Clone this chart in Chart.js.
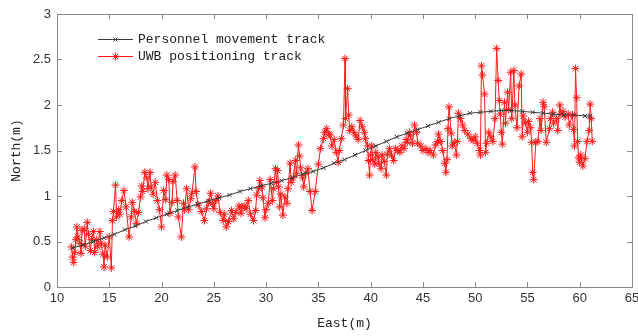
<!DOCTYPE html>
<html><head><meta charset="utf-8">
<script src="https://cdn.jsdelivr.net/npm/chart.js@4.4.1/dist/chart.umd.min.js"></script>
<style>html,body{margin:0;padding:0;background:#fff;overflow:hidden}</style>
</head><body>
<canvas id="c" width="638" height="336" style="display:block;width:638px;height:336px"></canvas>
<script>
// ---- tick labels ----
const xTicks = [10, 15, 20, 25, 30, 35, 40, 45, 50, 55, 60, 65];
const yTicks = [0, 0.5, 1, 1.5, 2, 2.5, 3];
const seriesNames = ['Personnel movement track', 'UWB positioning track'];

// ---- Personnel movement track (reference path) ----
const trackX = [11.5, 12.5, 13.5, 14.5, 15.5, 16.5, 17.5, 18.5, 19.5, 20.5, 21.5, 22.5, 23.5, 24.5, 25.5, 26.5, 27.5, 28.5, 29.5, 30.5,
  31.5, 32.5, 33.5, 34.5, 35.5, 36.5, 37.5, 38.5, 39.5, 40.5, 41.5, 42.5, 43.5, 44.5, 45.5, 46.5, 47.5, 48.5, 49.5, 50.5,
  51.5, 52.5, 53.5, 54.5, 55.5, 56.5, 57.5, 58.5, 59.5, 60.5, 61.0];
const trackY = [0.43, 0.46, 0.50, 0.54, 0.58, 0.63, 0.67, 0.72, 0.76, 0.80, 0.84, 0.88, 0.91, 0.95, 0.98, 1.01, 1.05, 1.08, 1.11, 1.14,
  1.17, 1.20, 1.24, 1.27, 1.31, 1.36, 1.40, 1.45, 1.50, 1.55, 1.60, 1.65, 1.69, 1.73, 1.77, 1.81, 1.85, 1.88, 1.91, 1.92,
  1.93, 1.94, 1.94, 1.93, 1.92, 1.91, 1.90, 1.89, 1.89, 1.88, 1.88];

// ---- UWB positioning track ----
const uwbX = [
  11.4, 11.5, 11.6, 11.7, 11.8, 11.9, 12.0, 12.2, 12.3, 12.4, 12.6, 12.7, 12.9, 13.0, 13.2, 13.3, 13.5, 13.6, 13.8, 13.9, 14.1, 14.2, 14.4, 14.5, 14.6, 14.8, 15.0, 15.2,
  15.3, 15.4, 15.6, 15.7, 15.9, 16.0, 16.2, 16.4, 16.6, 16.9, 17.1, 17.2, 17.4, 17.6, 17.8, 18.0, 18.1, 18.2, 18.4, 18.6, 18.7, 18.9,
  19.0, 19.2, 19.4, 19.6, 19.8, 20.0, 20.2, 20.4, 20.5, 20.7, 20.8, 21.0, 21.1, 21.3, 21.5, 21.6, 21.9, 22.1, 22.2, 22.4, 22.6, 22.8, 22.9, 23.2, 23.3, 23.5, 23.8, 24.1, 24.3, 24.5, 24.7, 24.9,
  25.0, 25.2, 25.4, 25.6, 25.9, 26.0, 26.2, 26.4, 26.7, 26.9, 27.1, 27.4, 27.6, 27.7, 27.9, 28.1, 28.3, 28.5, 28.8, 29.0, 29.1, 29.3, 29.4, 29.6, 29.7, 29.9,
  30.0, 30.2, 30.4, 30.6, 30.7, 30.9, 31.0, 31.1, 31.2, 31.3, 31.4, 31.6, 31.8, 32.0, 32.1, 32.3, 32.4, 32.6, 32.8, 32.9, 33.1, 33.2, 33.3, 33.5, 33.6, 33.8, 34.0, 34.2, 34.4, 34.7, 35.0, 35.2, 35.5, 35.6, 35.8,
  36.0, 36.1, 36.3, 36.5, 36.7, 36.9, 37.0, 37.2, 37.4, 37.55, 37.6, 37.8, 37.9, 38.0, 38.2, 38.4, 38.6, 38.8, 39.0, 39.2, 39.4, 39.5, 39.7, 39.8, 39.9,
  40.0, 40.1, 40.2, 40.4, 40.5, 40.7, 40.8, 41.0, 41.1, 41.3, 41.5, 41.6, 41.8, 42.0, 42.2, 42.4, 42.6, 42.8, 43.0, 43.2, 43.4, 43.5, 43.7, 43.8, 44.0, 44.2, 44.4,
  44.5, 44.8, 45.0, 45.3, 45.5, 45.7, 46.0, 46.2, 46.4, 46.5, 46.7, 46.9, 47.1, 47.2, 47.3, 47.4, 47.5, 47.7, 47.8, 48.0, 48.2, 48.3, 48.4, 48.6, 48.8, 49.0, 49.3, 49.6, 49.8, 50.0,
  50.2, 50.4, 50.5, 50.6, 50.7, 50.9, 51.0, 51.1, 51.3, 51.5, 51.7, 51.9, 52.05, 52.2, 52.3, 52.4, 52.5, 52.6, 52.8, 52.9, 53.1, 53.2, 53.4, 53.5, 53.7, 53.8, 54.0, 54.2, 54.4, 54.5, 54.6, 54.8,
  55.0, 55.1, 55.3, 55.4, 55.5, 55.6, 55.8, 56.0, 56.2, 56.3, 56.5, 56.6, 56.8, 57.1, 57.2, 57.4, 57.5, 57.8, 57.9, 58.1, 58.2, 58.4, 58.6, 58.9, 59.0, 59.3, 59.4, 59.5, 59.6, 59.7, 59.8, 59.9, 60.0, 60.1, 60.3, 60.5, 60.7, 60.9, 61.0, 61.1, 61.2
];
const uwbY = [
  0.44, 0.33, 0.27, 0.38, 0.52, 0.66, 0.55, 0.48, 0.37, 0.62, 0.64, 0.45, 0.71, 0.58, 0.40, 0.52, 0.61, 0.38, 0.52, 0.44, 0.61, 0.48, 0.36, 0.22, 0.46, 0.33, 0.55, 0.21,
  0.73, 0.83, 1.12, 0.77, 0.85, 0.80, 0.95, 1.06, 0.88, 0.55, 0.77, 0.93, 0.83, 0.70, 0.82, 0.99, 1.11, 1.05, 1.26, 1.20, 1.08, 1.26,
  1.10, 1.02, 1.15, 0.95, 0.85, 0.66, 1.06, 0.96, 1.23, 1.18, 0.81, 0.93, 1.16, 1.23, 0.95, 0.77, 0.55, 0.92, 0.85, 1.08, 0.85, 0.97, 1.03, 1.32, 1.05, 0.90, 0.83, 0.73, 0.86, 0.93, 1.03, 0.92,
  0.86, 0.95, 1.00, 0.82, 0.73, 0.80, 0.66, 0.72, 0.84, 0.75, 0.82, 0.89, 0.81, 0.88, 0.89, 0.86, 0.95, 0.80, 0.73, 0.84, 1.01, 1.08, 1.17, 1.10, 0.98, 0.76,
  0.85, 0.92, 1.18, 0.95, 1.08, 1.30, 1.15, 1.28, 1.10, 0.88, 1.02, 0.79, 0.99, 0.92, 1.08, 1.36, 1.15, 1.20, 1.39, 1.25, 1.56, 1.44, 1.31, 1.20, 1.10, 1.25, 1.30, 1.05, 0.84, 1.05, 1.35, 1.52, 1.63, 1.70, 1.74,
  1.68, 1.67, 1.55, 1.62, 1.48, 1.37, 1.50, 1.63, 1.78, 2.51, 1.85, 2.18, 1.89, 1.72, 1.76, 1.70, 1.66, 1.62, 1.83, 1.76, 1.70, 1.63, 1.55, 1.39, 1.23,
  1.45, 1.55, 1.40, 1.35, 1.48, 1.43, 1.36, 1.30, 1.45, 1.38, 1.23, 1.46, 1.52, 1.45, 1.39, 1.52, 1.50, 1.48, 1.55, 1.52, 1.62, 1.59, 1.70, 1.66, 1.58, 1.78, 1.70,
  1.58, 1.55, 1.50, 1.52, 1.48, 1.50, 1.45, 1.56, 1.60, 1.68, 1.60, 1.50, 1.36, 1.26, 1.40, 1.74, 1.98, 1.69, 1.55, 1.59, 1.45, 1.60, 1.91, 1.85, 1.78, 1.72, 1.68, 1.63, 1.61, 1.65,
  1.58, 1.50, 1.45, 2.43, 2.33, 2.12, 1.48, 1.58, 1.70, 1.65, 1.60, 1.85, 2.62, 2.27, 2.05, 1.90, 1.70, 1.57, 2.03, 1.80, 2.14, 1.95, 2.36, 1.85, 2.38, 2.00, 1.75, 2.21, 2.34, 1.65, 1.88, 1.80,
  1.70, 1.82, 1.75, 1.59, 1.26, 1.18, 1.59, 1.60, 1.85, 1.72, 2.03, 1.98, 1.59, 1.74, 1.85, 1.92, 1.80, 1.85, 1.72, 2.00, 1.90, 1.93, 1.87, 1.90, 1.78, 1.89, 1.73, 1.55, 2.40, 2.08, 1.60, 1.42, 1.37, 1.45, 1.33, 1.41, 1.60, 1.72, 2.01, 1.85, 1.60
];

const toPts = (xs, ys) => xs.map((x, i) => ({ x: x, y: ys[i] }));

const FRAME = '#8a8a8a';
const LABEL = '#333333';
const TITLE_FONT = '"Liberation Mono", "DejaVu Sans Mono", monospace';

function drawMarker(ctx, style, x, y, r) {
  ctx.beginPath();
  if (style === 'crossRot' || style === 'star') {
    const d = r * Math.SQRT1_2;
    ctx.moveTo(x - d, y - d); ctx.lineTo(x + d, y + d);
    ctx.moveTo(x - d, y + d); ctx.lineTo(x + d, y - d);
  }
  if (style === 'star') {
    ctx.moveTo(x - r, y); ctx.lineTo(x + r, y);
    ctx.moveTo(x, y - r); ctx.lineTo(x, y + r);
  }
  ctx.stroke();
}

const framePlugin = {
  id: 'frame',
  beforeDatasetsDraw(chart) {
    const { ctx, chartArea: a, scales } = chart;
    ctx.save();
    ctx.strokeStyle = FRAME;
    ctx.lineWidth = 1;
    ctx.strokeRect(Math.round(a.left) + 0.5, Math.round(a.top) + 0.5, Math.round(a.right - a.left), Math.round(a.bottom - a.top));
    const tl = 5;
    ctx.beginPath();
    xTicks.forEach(v => {
      const px = Math.round(scales.x.getPixelForValue(v)) + 0.5;
      ctx.moveTo(px, a.bottom); ctx.lineTo(px, a.bottom - tl);
      ctx.moveTo(px, a.top); ctx.lineTo(px, a.top + tl);
    });
    yTicks.forEach(v => {
      const py = Math.round(scales.y.getPixelForValue(v)) + 0.5;
      ctx.moveTo(a.left, py); ctx.lineTo(a.left + tl, py);
      ctx.moveTo(a.right, py); ctx.lineTo(a.right - tl, py);
    });
    ctx.stroke();
    ctx.restore();
  },
  afterDraw(chart) {
    const { ctx } = chart;
    ctx.save();
    const rows = [39, 56];
    chart.data.datasets.forEach((ds, i) => {
      const y = rows[i] + 0.5;
      ctx.strokeStyle = ds.borderColor;
      ctx.lineWidth = 1;
      ctx.beginPath(); ctx.moveTo(98, y); ctx.lineTo(133, y); ctx.stroke();
      drawMarker(ctx, ds.pointStyle, 115.5, y, ds.pointRadius);
      ctx.fillStyle = '#222';
      ctx.font = '13px ' + TITLE_FONT;
      ctx.textBaseline = 'middle';
      ctx.textAlign = 'left';
      ctx.fillText(ds.label, 138, y);
    });
    ctx.restore();
  }
};

new Chart(document.getElementById('c'), {
  type: 'scatter',
  data: {
    datasets: [
      {
        label: seriesNames[0],
        data: toPts(trackX, trackY),
        showLine: true,
        borderColor: '#3a3a3a',
        backgroundColor: '#3a3a3a',
        borderWidth: 1,
        pointStyle: 'crossRot',
        pointRadius: 3,
        pointBorderWidth: 1,
        tension: 0
      },
      {
        label: seriesNames[1],
        data: toPts(uwbX, uwbY),
        showLine: true,
        borderColor: '#ff1a1a',
        backgroundColor: '#ff1a1a',
        borderWidth: 1,
        pointStyle: 'star',
        pointRadius: 4,
        pointBorderWidth: 1,
        tension: 0
      }
    ]
  },
  options: {
    responsive: false,
    animation: false,
    devicePixelRatio: 1,
    layout: { padding: { top: 14, right: 6, left: 0, bottom: 0 } },
    plugins: { legend: { display: false }, tooltip: { enabled: false } },
    scales: {
      x: {
        type: 'linear', min: 10, max: 65,
        afterBuildTicks: s => { s.ticks = xTicks.map(v => ({ value: v })); },
        afterFit: s => { s.height = 49; s.paddingLeft = 0; s.paddingRight = 0; },
        grid: { display: false, drawTicks: false },
        border: { display: false },
        ticks: { padding: 4, color: LABEL, font: { family: '"Liberation Sans", Arial, sans-serif', size: 13 }, maxRotation: 0, autoSkip: false, callback: v => String(v) },
        title: { display: true, text: 'East(m)', color: '#222', font: { family: TITLE_FONT, size: 13 }, padding: { top: 0, bottom: 5 } }
      },
      y: {
        type: 'linear', min: 0, max: 3,
        afterBuildTicks: s => { s.ticks = yTicks.map(v => ({ value: v })); },
        afterFit: s => { s.width = 57; s.paddingTop = 0; s.paddingBottom = 0; },
        grid: { display: false, drawTicks: false },
        border: { display: false },
        ticks: { padding: 6, color: LABEL, font: { family: '"Liberation Sans", Arial, sans-serif', size: 13 }, callback: v => String(v) },
        title: { display: true, text: 'North(m)', color: '#222', font: { family: TITLE_FONT, size: 13 }, padding: { top: 9, bottom: 0 } }
      }
    }
  },
  plugins: [framePlugin]
});
</script>
</body></html>
